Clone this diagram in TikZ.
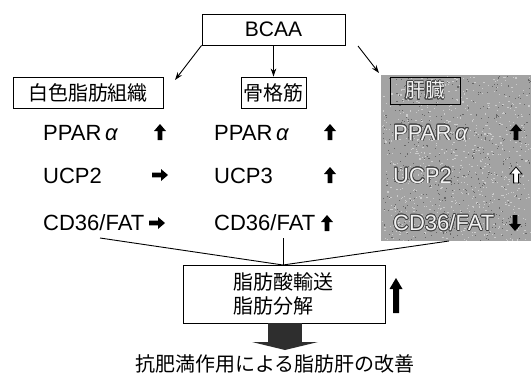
\documentclass[tikz,border=0pt]{standalone}
\usepackage{fontspec}
\setmainfont{Liberation Sans}
\newfontfamily\jp{Noto Sans CJK JP}
\usepackage{contour}
\contourlength{0.7pt}
\contournumber{16}
\usetikzlibrary{arrows.meta,calc}
\begin{document}
\begin{tikzpicture}[x=1pt,y=-1pt,
  lat/.style={font=\fontsize{22}{22}\selectfont, inner sep=0pt, anchor=base west},
  jpt/.style={font=\jp\fontsize{20}{24}\selectfont},
  lbox/.style={draw, line width=0.9pt, inner sep=0pt, jpt},
  conn/.style={line width=0.9pt},
  arr/.style={conn, -{Stealth[length=8pt,width=5.5pt]}},
  upblk/.pic={\fill (0,-8) -- (6,-1) -- (2.4,-1) -- (2.4,8) -- (-2.4,8) -- (-2.4,-1) -- (-6,-1) -- cycle;},
  dnblk/.pic={\fill (0,8) -- (6,1) -- (2.4,1) -- (2.4,-8) -- (-2.4,-8) -- (-2.4,1) -- (-6,1) -- cycle;},
  rtblk/.pic={\fill (8,0) -- (1,-6) -- (1,-2.4) -- (-8,-2.4) -- (-8,2.4) -- (1,2.4) -- (1,6) -- cycle;},
  upwht/.pic={\filldraw[fill=white, draw=black, line width=0.8pt] (0,-8) -- (6,-1) -- (2.4,-1) -- (2.4,8) -- (-2.4,8) -- (-2.4,-1) -- (-6,-1) -- cycle;},
  livtxt/.style={lat}
]
\useasboundingbox (0,0) rectangle (531,375);
\fill[white] (0,0) rectangle (531,375);
% liver background with speckle texture
\fill[black!36] (381,75) rectangle (531,241);
\pgfmathsetseed{7}
\foreach \i in {1,...,700}{
  \pgfmathsetmacro{\px}{456+74*rand}
  \pgfmathsetmacro{\py}{158+82*rand}
  \fill[white!80!black] (\px,\py) rectangle ++(1.3,1.1);
}
\foreach \i in {1,...,450}{
  \pgfmathsetmacro{\px}{456+74*rand}
  \pgfmathsetmacro{\py}{158+82*rand}
  \fill[black!60] (\px,\py) rectangle ++(1.1,1.1);
}

% top
\node[draw, line width=0.9pt, minimum width=143pt, minimum height=31pt, inner sep=0pt,
      font=\fontsize{21}{21}\selectfont] (bcaa) at (273.5,29.5) {BCAA};

% organ boxes
\node[lbox, minimum width=150pt, minimum height=31pt] (white) at (88,92.5) {白色脂肪組織};
\node[lbox, minimum width=65pt, minimum height=31pt] (bone) at (273.5,92.5) {骨格筋};
\node[lbox, minimum width=70pt, minimum height=27pt] (liver) at (425,90.5) {\contour{black!75}{\textcolor{black!5}{肝臓}}};

\coordinate (wend) at (175,80);
\coordinate (rstart) at (358,46);
\coordinate (lend) at (379,73);
\draw[arr] (bcaa.south west) -- (wend);
\draw[arr] (bone.north |- bcaa.south) -- (bone.north);
\draw[arr] (rstart) -- (lend);

% rows: left column
\node[lat] (w1) at (43,140) {PPAR\,{\itshape α}};
\node[lat] (w2) at (43,183) {UCP2};
\node[lat] (w3) at (43,230.5) {CD36/FAT};
\pic at (160,132) {upblk};
\pic at (160,175) {rtblk};
\pic at (157,223) {rtblk};

% middle column
\node[lat] (m1) at (214,140) {PPAR\,{\itshape α}};
\node[lat] (m2) at (214,183) {UCP3};
\node[lat] (m3) at (214,230.5) {CD36/FAT};
\pic at (330,132) {upblk};
\pic at (330,175) {upblk};
\pic at (327,223) {upblk};

% right column (liver)
\node[livtxt] (l1) at (393,140) {\contour{black!75}{\textcolor{black!5}{PPAR\,{\itshape α}}}};
\node[livtxt] (l2) at (393,183) {\contour{black!75}{\textcolor{black!5}{UCP2}}};
\node[livtxt] (l3) at (393,230.5) {\contour{black!75}{\textcolor{black!5}{CD36/FAT}}};
\pic at (516,132) {upblk};
\pic at (516,175) {upwht};
\pic at (515,223) {dnblk};

% bottom box
\node[draw, line width=0.9pt, minimum width=202pt, minimum height=58pt, inner sep=0pt] (fa) at (284,294) {};
\node[jpt, align=left, inner sep=0pt, anchor=west] (fatext) at (233,294) {脂肪酸輸送\\脂肪分解};

\coordinate (j) at (283,265);
\coordinate (ls) at (100,238);
\coordinate (ms) at (283,238);
\coordinate (rs) at (449,241);
\draw[conn] (ls) -- (j) -- (rs);
\draw[conn] (ms) -- (j);

% up arrow beside box
\fill (396,278) -- (402.5,289) -- (399,289) -- (399,313) -- (393,313) -- (393,289) -- (389.5,289) -- cycle;

% down block arrow
\fill[black!82] (268,323) rectangle (302,342);
\fill[black!82] (252,342) -- (318,342) -- (285,350) -- cycle;

\node[jpt, inner sep=0pt] (result) at (275,364) {抗肥満作用による脂肪肝の改善};
\end{tikzpicture}
\end{document}
